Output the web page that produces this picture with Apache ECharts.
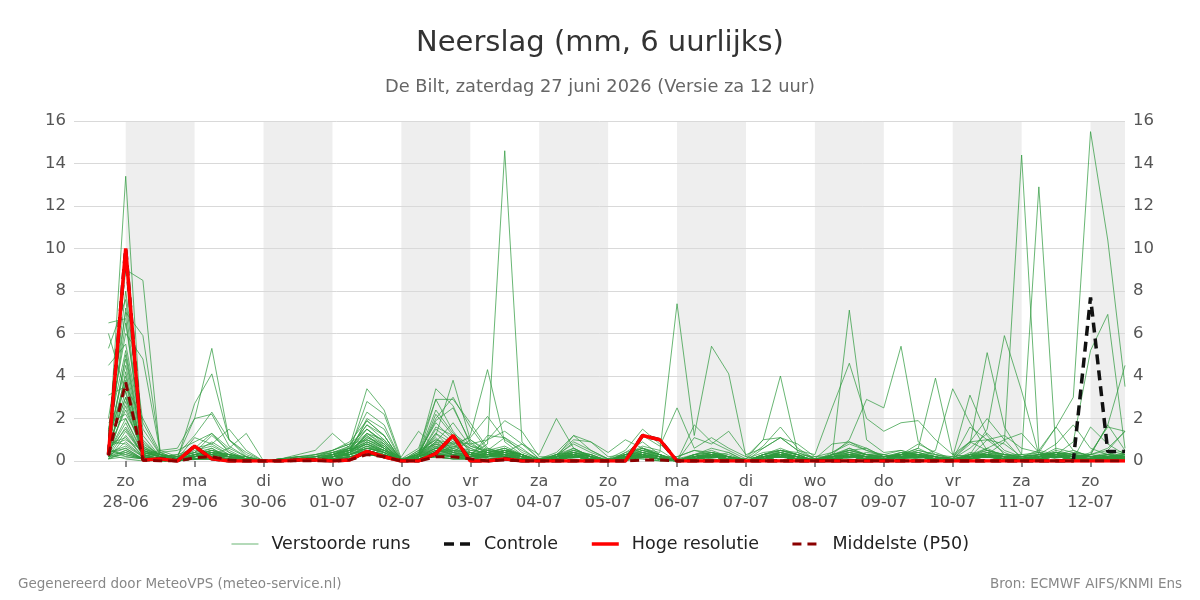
<!DOCTYPE html>
<html>
<head>
<meta charset="utf-8">
<script src="https://cdn.jsdelivr.net/npm/echarts@6/dist/echarts.min.js"></script>
<style>
  html, body { margin: 0; padding: 0; background: #fff; }
  #chart { width: 1200px; height: 600px; }
</style>
</head>
<body>
<div id="chart"></div>
<script>
// tijdstappen: elke 6 uur, uren t.o.v. zo 28-06 00:00
const startHour = -6
const stepHours = 6

const dayNames = ['zo', 'ma', 'di', 'wo', 'do', 'vr', 'za', 'zo', 'ma', 'di', 'wo', 'do', 'vr', 'za', 'zo']
const dayDates = ['28-06', '29-06', '30-06', '01-07', '02-07', '03-07', '04-07', '05-07',
  '06-07', '07-07', '08-07', '09-07', '10-07', '11-07', '12-07']
const tickHours = [0, 24, 48, 72, 96, 120, 144, 168, 192, 216, 240, 264, 288, 312, 336]
const greyDays = [0, 48, 96, 144, 192, 240, 288, 336]

// mm per 6 uur
const hogeResolutie = [0.3, 10.0,0.05,0.1,0, 0.7,0.1,0,0, 0,0,0.05,0.05, 0,0.05,0.45,0.2, 0,0,0.35,1.2, 0,0,0.1,0, 0,0,0,0, 0,0,1.2,1.0, 0,0,0,0, 0,0,0,0, 0,0,0,0, 0,0,0,0, 0,0,0,0, 0,0,0,0, 0,0,0]
const controle = [0.3, 10.0,0.05,0.1,0, 0.7,0.1,0,0, 0,0,0.05,0.05, 0,0.05,0.45,0.2, 0,0,0.35,1.2, 0,0,0.1,0, 0,0,0,0, 0,0,1.2,1.0, 0,0,0,0, 0,0,0,0, 0,0,0,0, 0,0,0,0, 0,0,0,0, 0,0,0,0, 7.7,0.45,0.45]
const middelste = [0.25, 3.7,0.05,0,0, 0.15,0.2,0.05,0, 0,0,0,0, 0,0.05,0.3,0.2, 0,0,0.2,0.2, 0.1,0,0.05,0, 0,0,0,0, 0,0,0.05,0.05, 0,0,0,0, 0,0,0,0, 0,0,0,0, 0,0,0,0, 0,0,0,0, 0,0,0,0, 0,0,0]

const verstoordeRuns = [
  [0.5, 13.4,0.4,0.2,0, 0.3,0.6,0.1,0, 0,0,0.1,0.2, 0.3,0.4,1.2,0.6, 0,0.2,0.8,0.6, 0.3,0.1,0.2,0, 0,0,0.3,0.1, 0,0.2,0.3,0.1, 0,0.2,0.1,0, 0,0.3,0.2,0, 0,0.1,0.3,0.2, 0.1,0.2,0.1,0, 0,0.1,0.4,0.2, 0,0.1,0.3,0.2, 0.1,0.3,0.2],
  [1.2, 9.0,8.5,0.3,0.1, 0.2,0.4,0,0, 0,0.1,0,0, 0.2,0.5,1.9,1.2, 0,0.3,1.1,0.4, 0.2,0.4,0.6,0.2, 0,0.2,0.1,0, 0,0,0.4,0.2, 0,0.3,0.5,0.2, 0,0.1,0.4,0.2, 0,0,0.2,0.4, 0.3,0.1,0.2,0.1, 0,0.4,0.3,0.1, 0.2,0,0.3,0.5, 0.2,0.1,0],
  [2.0, 7.0,5.9,0.5,0.2, 0.4,1.2,0.5,0.1, 0,0,0.2,0.3, 0.5,0.8,1.5,0.9, 0.1,0.2,0.6,0.4, 1.0,0.4,0.2,0.1, 0,0.1,0.3,0.1, 0,0.3,0.6,0.2, 0,0.2,0.3,0.1, 0.1,0.4,0.5,0.3, 0,0.2,0.5,0.6, 0.2,0.4,0.3,0.1, 0.1,0.9,0.5,0.3, 0.2,0.3,0.1,0, 0.3,0.2,0.1],
  [1.5, 6.0,4.8,0.4,0.1, 0.1,0.3,0.2,0, 0,0,0,0.1, 0.2,0.3,0.9,0.5, 0,0.4,1.8,1.0, 0.6,0.3,0.2,0.1, 0,0.2,0.6,0.2, 0,0,0.2,0.1, 0,0.1,0.2,0.4, 0,0.2,0.3,0.1, 0,0.3,0.4,0.2, 0.1,0.3,0.4,0.2, 0,0.2,1.0,0.8, 0.2,0.1,0.4,0.3, 0,0.2,0.3],
  [6.5, 6.7,0.5,0.2,0.1, 0.3,0.2,0.1,0, 0,0.1,0.2,0.1, 0.3,0.6,1.0,0.7, 0,0.2,0.5,0.3, 0.2,1.2,1.1,0.6, 0,0.3,0.8,0.4, 0.1,0.2,0.1,0, 0,0.3,0.6,0.4, 0,0.2,0.3,0.2, 0.1,0.2,0.6,0.3, 0.2,0.4,0.3,0.2, 0,0.3,0.2,0.1, 0.1,0.2,0.6,0.4, 0.2,0.4,0.1],
  [6.0, 3.2,0.3,0.1,0.2, 0.4,0.9,0.4,0.1, 0,0,0.1,0.1, 0.1,0.4,1.3,1.0, 0.1,0.3,1.3,0.5, 0.2,0.2,0.4,0.1, 0,0,0.2,0.3, 0,0.1,0.3,0, 0.2,0.5,0.3,0.1, 0,0.6,1.1,0.5, 0.1,0.2,0.1,0, 0.2,0.3,0.8,0.4, 0.1,0.2,0.5,0.3, 0.3,0.4,0.2,0.1, 0.1,0.2,0.4],
  [5.3, 7.6,1.5,0.3,0.1, 0.2,0.5,0.2,0, 0,0.1,0.1,0, 0.4,0.5,0.8,0.4, 0,0.1,0.4,0.7, 0.3,0.5,1.1,0.4, 0.1,0.2,0.4,0.2, 0,0.4,0.9,0.3, 0,0.2,0.4,0.2, 0,0.1,0.2,0.1, 0,0.4,0.9,0.5, 0.3,0.5,0.2,0.1, 0,0.1,0.3,0.2, 0.1,0.1,0.2,0.4, 0.3,0.6,1.4],
  [4.5, 5.5,1.2,0.2,0.3, 0.6,0.3,0.1,0, 0,0,0,0.2, 0.3,0.7,2.3,1.7, 0,0.5,0.8,0.3, 0.1,0.3,0.5,0.2, 0,0.1,0.2,0.1, 0,0.2,0.5,0.3, 0.1,0.3,0.2,0.1, 0,0.3,0.6,0.3, 0,0.1,0.2,0.3, 0.2,0.2,0.5,0.3, 0.2,0.3,0.2,0, 0.1,0.3,0.4,0.2, 0.1,0.2,0.2],
  [3.1, 3.5,2.0,0.4,0.1, 0.5,0.7,0.3,0.1, 0,0,0.1,0.1, 0.2,0.3,0.7,0.3, 0,0.3,2.0,3.0, 1.6,0.5,0.3,0.1, 0,0.2,0.5,0.3, 0,0.1,0.2,0.1, 0,0.1,0.3,0.2, 0,0.2,0.4,0.2, 0,0.2,0.3,0.1, 0.1,0.3,0.6,0.2, 0,0.2,0.4,0.3, 0.1,0.2,0.5,0.3, 0.2,0.1,0.3],
  [1.0, 4.5,0.6,0.3,0.1, 2.7,4.1,1.0,0.3, 0,0,0.1,0.1, 0.2,0.4,1.1,0.8, 0,0.2,0.6,0.5, 0.4,0.3,0.2,0.1, 0,0.1,0.3,0.2, 0,0.3,0.4,0.2, 0,0.2,0.4,0.3, 0,0.1,0.5,0.4, 0.1,0.1,0.2,0.2, 0.1,0.2,0.3,0.1, 0,0.3,0.6,0.2, 0.2,0.3,0.3,0.1, 0.1,0.2,0.1],
  [0.8, 4.0,0.3,0.5,0.6, 2.0,5.3,1.0,0.2, 0,0,0.1,0, 0.3,0.5,0.9,0.5, 0,0.2,1.3,0.8, 0.2,0.6,0.4,0.3, 0,0.2,0.2,0.1, 0,0,0.2,0.1, 0,0.1,0.2,0.1, 0,0.3,0.5,0.3, 0,0.2,0.3,0.2, 0.2,0.3,0.2,0.1, 0.1,0.2,0.3,0.1, 0,0.2,0.4,0.3, 0.2,0.3,0.2],
  [0.6, 3.0,0.4,0.2,0.3, 1.2,2.3,1.0,0.4, 0,0.1,0.2,0.3, 0.4,0.6,1.7,1.2, 0,0.4,1.0,0.6, 0.3,0.2,0.5,0.3, 0,0.3,0.6,0.2, 0,0.2,0.3,0.1, 0,0.3,0.2,0.1, 0,0.2,0.3,0.2, 0,0.3,0.5,0.3, 0.3,0.2,0.1,0.1, 0,0.1,0.2,0.1, 0.1,0.3,0.2,0.1, 0.2,0.3,0.5],
  [0.3, 2.6,0.3,0.1,0.2, 2.0,2.2,0.7,0.2, 0,0,0,0.1, 0.2,0.5,1.5,0.9, 0,0.2,1.6,1.2, 0.6,0.3,0.4,0.2, 0,0.1,0.2,0.1, 0,0.3,0.5,0.2, 0,0.2,0.2,0.1, 0,0.2,0.4,0.2, 0,0.1,0.2,0.2, 0.1,0.4,0.3,0.2, 0.1,0.3,0.5,0.3, 0.2,0.1,0.2,0.3, 0.1,0.2,0.3],
  [1.8, 2.2,0.8,0.3,0.2, 0.6,1.3,0.4,0.1, 0,0,0.1,0.1, 0.2,0.6,1.3,0.7, 0,0.5,1.0,0.8, 0.4,0.2,0.3,0.1, 0,0.2,0.4,0.2, 0,0.1,0.3,0.2, 0,0.2,0.3,0.2, 0,0.1,0.2,0.1, 0,0.2,0.4,0.3, 0.2,0.3,0.4,0.2, 0,0.2,0.4,0.2, 0.1,0.2,0.3,0.1, 0,0.1,0.2],
  [0.4, 1.8,0.2,0.4,0.5, 0.9,1.3,0.6,0.2, 0,0,0.1,0.2, 0.5,0.8,1.0,0.6, 0,0.3,0.9,0.4, 0.3,0.5,0.7,0.3, 0.1,0.2,0.3,0.1, 0,0.4,0.6,0.3, 0,0.1,0.1,0, 0,0.3,0.5,0.3, 0,0.1,0.2,0.1, 0.1,0.2,0.2,0.1, 0,0.1,0.2,0.2, 0.1,0.2,0.3,0.2, 0.2,0.1,0.1],
  [0.2, 1.4,0.3,0.2,0.1, 1.1,0.8,1.5,0.5, 0,0.1,0.2,0.2, 0.3,0.5,0.8,0.5, 0,0.1,0.5,0.3, 0.2,0.3,0.3,0.2, 0,0.1,0.2,0.1, 0,0.2,0.2,0.1, 0,0.1,0.2,0.1, 0,0.1,0.2,0.1, 0.1,0.2,0.2,0.1, 0,0.2,0.3,0.1, 0,0.1,0.2,0.1, 0,0.2,0.2,0.1, 0.1,0.2,0.2],
  [0.7, 1.0,0.5,0.2,0.1, 0.2,0.3,0.6,1.3, 0,0,0.1,0.1, 0.1,0.3,0.6,0.4, 0,0.2,0.4,0.2, 0.1,0.2,0.4,0.3, 0,0.2,0.3,0.1, 0,0.1,0.1,0, 0,0.1,0.3,0.2, 0,0.2,0.2,0.1, 0,0.1,0.2,0.1, 0.1,0.1,0.2,0.1, 0,0.2,0.2,0.1, 0.1,0.1,0.2,0.2, 0.1,0.1,0.1],
  [0.9, 0.8,0.2,0.1,0.1, 0.3,0.5,0.3,0.2, 0,0.1,0.3,0.5, 1.3,0.6,0.5,0.3, 0,0.2,0.7,0.4, 0.2,0.4,0.3,0.1, 0,0.1,0.4,0.2, 0,0.2,0.3,0.1, 0,0.1,0.2,0.1, 0,0.2,0.3,0.2, 0,0.2,0.3,0.2, 0.1,0.2,0.3,0.2, 0,0.1,0.2,0.1, 0.1,0.2,0.4,0.2, 0.1,0.2,0.1],
  [0.1, 0.5,0.1,0.1,0, 0.1,0.3,0.2,0.1, 0,0,0.1,0.2, 0.4,0.7,3.4,2.4, 0.1,0.3,0.6,0.3, 0.2,0.3,0.2,0.1, 0,0.1,0.2,0.1, 0,0.1,0.2,0.1, 0,0.2,0.3,0.1, 0,0.1,0.2,0.1, 0,0.2,0.4,0.2, 0.2,0.3,0.2,0.1, 0,0.3,0.3,0.2, 0.1,0.2,0.2,0.1, 0.1,0.2,0.3],
  [0.3, 3.8,0.2,0.1,0, 0.2,0.4,0.2,0.1, 0,0,0.1,0.1, 0.3,0.5,2.8,2.2, 0,0.2,0.4,0.2, 0.1,0.2,0.5,0.3, 0,0.2,0.3,0.1, 0,0.2,0.4,0.2, 0,0.1,0.2,0.1, 0,0.3,0.4,0.2, 0,0.1,0.3,0.2, 0.1,0.2,0.2,0.1, 0.1,0.2,0.3,0.1, 0,0.1,0.3,0.2, 0.2,0.3,0.2],
  [0.5, 5.0,0.7,0.3,0.1, 0.3,0.2,0.1,0, 0,0.1,0.2,0.1, 0.2,0.4,2.0,1.5, 0,0.3,0.8,0.5, 0.4,0.2,0.3,0.1, 0,0.1,0.2,0.1, 0,0.3,0.2,0.1, 0,0.2,0.3,0.2, 0,0.2,0.2,0.1, 0.1,0.2,0.3,0.2, 0.1,0.3,0.5,0.3, 0.1,0.2,0.2,0.1, 0.1,0.2,0.2,0.1, 0,0.1,0.2],
  [1.0, 6.5,1.0,0.2,0.1, 0.4,0.3,0.2,0, 0,0,0.1,0.3, 0.5,0.9,1.9,1.2, 0,0.1,0.3,0.2, 0.3,1.0,1.4,0.8, 0.1,0.3,0.4,0.2, 0,0.1,0.2,0.1, 0,0.3,0.4,0.2, 0,0.1,0.3,0.2, 0,0.3,0.6,0.3, 0.2,0.2,0.3,0.1, 0,0.2,0.3,0.2, 0.2,0.3,0.2,0.1, 0.1,0.2,0.4],
  [0.2, 4.2,0.4,0.2,0.1, 0.2,0.4,0.3,0.1, 0,0,0,0.1, 0.3,0.6,1.7,1.0, 0,0.2,1.5,0.9, 0.3,0.3,0.4,0.2, 0,0.2,1.2,0.9, 0.2,0.3,0.3,0.1, 0,0.1,0.2,0.1, 0,0.2,0.3,0.1, 0,0.1,0.2,0.1, 0.1,0.2,0.2,0.1, 0,0.2,0.2,0.1, 0.1,0.1,0.3,0.2, 0.1,0.1,0.2],
  [0.4, 7.2,0.6,0.2,0.1, 0.3,0.2,0.1,0.1, 0,0,0.1,0.2, 0.4,0.6,1.5,0.8, 0,0.2,0.5,0.3, 0.2,0.4,0.6,0.3, 0,0.2,0.9,0.5, 0.1,0.2,0.3,0.2, 0,0.1,0.3,0.2, 0,0.2,0.4,0.2, 0,0.1,0.2,0.1, 0.1,0.2,0.2,0.1, 0,0.1,0.2,0.1, 0.1,0.2,0.3,0.1, 0.1,0.1,0.1],
  [0.8, 8.0,1.8,0.3,0.2, 0.4,0.6,0.2,0.1, 0,0,0.1,0.1, 0.2,0.3,1.3,0.8, 0,0.1,0.4,0.5, 0.3,0.2,0.3,0.1, 0,0.2,0.5,0.3, 0,0.2,0.5,0.3, 0,0.2,0.3,0.1, 0,0.1,0.2,0.1, 0,0.2,0.3,0.2, 0.2,0.3,0.3,0.1, 0,0.2,0.3,0.2, 0.1,0.2,0.4,0.2, 0.2,0.2,0.3],
  [1.4, 5.2,0.9,0.2,0.1, 0.2,0.4,0.3,0.2, 0,0,0,0.1, 0.2,0.4,1.0,0.6, 0,0.3,0.7,0.4, 0.2,0.3,0.5,0.3, 0,0.1,0.2,0.1, 0,0.3,0.7,0.5, 0,0.2,0.2,0.1, 0,0.2,0.3,0.2, 0,0.2,0.4,0.2, 0.1,0.2,0.2,0.1, 0,0.2,0.3,0.2, 0.1,0.2,0.2,0.1, 0.1,0.2,0.2],
  [0.6, 2.4,0.5,0.3,0.2, 0.6,0.8,0.3,0.1, 0,0,0.1,0.1, 0.3,0.5,0.9,0.6, 0,0.3,0.9,0.7, 0.5,0.4,0.5,0.2, 0,0.3,0.4,0.2, 0,0.2,0.3,0.2, 0,0.3,0.4,0.2, 0,0.1,0.2,0.1, 0,0.2,0.2,0.1, 0.1,0.2,0.3,0.2, 0.1,0.2,0.2,0.1, 0,0.1,0.2,0.1, 0,0.1,0.2],
  [1.6, 2.0,0.4,0.2,0.1, 0.3,0.5,0.2,0.1, 0,0,0.1,0.1, 0.2,0.3,0.6,0.5, 0.2,1.4,0.6,0.3, 0.2,0.3,0.2,0.1, 0,0.1,0.2,0.1, 0,0.1,0.2,0.1, 0,0.2,0.3,0.2, 0,0.3,0.5,0.3, 0,0.1,0.2,0.1, 0.1,0.1,0.2,0.1, 0,0.1,0.3,0.2, 0.1,0.2,0.2,0.1, 0.3,1.7,0.5],
  [0.3, 1.6,0.3,0.1,0.1, 0.2,0.3,0.2,0.1, 0,0,0.1,0.1, 0.2,0.3,0.5,0.3, 0,0.4,3.4,2.6, 0.8,0.4,0.3,0.1, 0,0.1,0.3,0.2, 0,0.2,0.3,0.1, 0,0.1,0.2,0.1, 0,0.2,0.3,0.1, 0,0.2,0.3,0.2, 0.1,0.3,0.4,0.2, 0.1,0.2,0.3,0.1, 0.2,0.4,1.6,0.5, 0.2,0.2,0.1],
  [0.5, 3.3,0.5,0.2,0.1, 0.3,0.4,0.2,0.1, 0,0,0.1,0.1, 0.2,0.4,0.8,0.4, 0,0.3,2.9,2.9, 1.8,0.6,0.3,0.2, 0,0.2,0.2,0.1, 0,0.2,0.4,0.2, 0,0.2,0.3,0.1, 0,0.1,0.3,0.2, 0,0.1,0.2,0.1, 0.1,0.2,0.3,0.2, 0,0.2,0.3,0.1, 0.1,0.3,0.8,1.7, 0.6,0.3,0.2],
  [0.2, 2.8,0.4,0.2,0.1, 0.2,0.3,0.2,0.1, 0,0,0.1,0.1, 0.3,0.5,1.1,0.7, 0.1,0.6,2.9,1.4, 0.4,0.3,0.5,0.3, 0,0.3,0.5,0.2, 0,0.1,0.2,0.1, 0,0.2,0.2,0.1, 0,0.2,0.3,0.2, 0,0.2,0.2,0.1, 0.1,0.2,0.3,0.1, 0.1,0.2,0.6,1.0, 1.3,0.4,0.2,0.1, 0.1,0.1,0.2],
  [1.1, 3.6,0.6,0.3,0.1, 0.3,0.5,0.3,0.1, 0,0,0.1,0.1, 0.2,0.3,0.7,0.4, 0,0.3,2.4,1.3, 0.7,0.5,0.4,0.2, 0,0.2,0.3,0.2, 0,0.2,0.2,0.1, 0,0.1,0.2,0.1, 0,0.1,0.2,0.1, 0,0.2,0.3,0.1, 0.1,0.2,0.2,0.1, 0.1,1.6,1.0,0.4, 0.1,0.1,0.2,0.1, 0,0.1,0.1],
  [0.9, 4.8,0.7,0.2,0.1, 0.3,0.4,0.2,0, 0,0,0.1,0.1, 0.3,0.5,1.2,0.6, 0,0.2,2.2,1.2, 0.5,0.4,0.6,0.3, 0,0.2,0.3,0.1, 0,0.1,0.3,0.2, 0,0.2,0.3,0.2, 0,0.2,0.2,0.1, 0,0.3,0.5,0.3, 0.2,0.3,0.3,0.1, 0.2,0.9,2.0,1.0, 0.1,0.2,0.3,0.2, 0.1,0.2,0.3],
  [0.4, 2.0,0.3,0.1,0.1, 0.2,0.3,0.2,0.1, 0,0,0.1,0.1, 0.2,0.4,0.8,0.5, 0,0.2,1.2,3.8, 1.0,0.5,0.4,0.2, 0,0.2,0.3,0.1, 0,0.2,0.3,0.1, 0,0.1,0.2,0.1, 0,0.2,0.3,0.1, 0,0.1,0.2,0.2, 0.1,0.2,0.2,0.1, 0,0.2,0.3,0.2, 0.1,0.2,0.2,0.2, 0.3,1.7,4.5],
  [0.7, 3.0,0.5,0.2,0.1, 0.2,0.4,0.3,0.1, 0,0,0.1,0.1, 0.2,0.3,0.6,0.4, 0,0.3,1.9,2.5, 0.9,0.3,0.5,0.3, 0,0.1,0.2,0.1, 0,0.3,0.4,0.2, 0,0.1,0.2,0.1, 0,0.2,0.3,0.2, 0,0.2,0.2,0.1, 0.2,0.3,0.2,0.1, 0,0.1,0.2,0.2, 0.1,0.2,0.3,0.9, 5.2,6.9,0.6],
  [0.1, 1.2,0.2,0.1,0.1, 0.1,0.2,0.1,0, 0,0,0.1,0.1, 0.2,0.3,0.5,0.3, 0,0.2,0.9,1.8, 0.7,0.4,0.3,0.2, 0,0.1,0.2,0.1, 0,0.1,0.2,0.1, 0,0.2,0.3,0.2, 0,0.1,0.2,0.1, 0,0.2,0.2,0.1, 0.1,0.2,0.3,0.1, 0,0.1,0.2,0.1, 0.2,0.5,1.6,3.0, 15.5,10.4,3.5],
  [0.2, 0.9,0.2,0.1,0, 0.1,0.2,0.1,0, 0,0,0.1,0.1, 0.1,0.3,0.6,0.4, 0,0.1,0.4,0.6, 1.2,4.3,0.9,0.3, 0,0.2,0.3,0.1, 0,0.1,0.2,0.1, 0,0.2,0.2,0.1, 0,0.1,0.2,0.1, 0,0.1,0.2,0.1, 0.1,0.2,0.2,0.1, 0,0.2,0.3,0.2, 0.3,12.9,0.4,0.3, 0.2,0.3,0.2],
  [0.5, 1.5,0.3,0.1,0.1, 0.2,0.3,0.2,0.1, 0,0,0.1,0.1, 0.2,0.4,0.7,0.5, 0,0.2,0.6,0.8, 1.1,2.1,1.0,0.5, 0.1,0.2,0.3,0.2, 0,0.2,0.3,0.1, 0,0.1,0.2,0.1, 0,0.2,0.3,0.1, 0,0.1,0.2,0.1, 0.1,0.2,0.2,0.1, 0.1,0.2,0.3,0.9, 14.4,0.5,0.3,0.2, 0.1,0.2,0.3],
  [0.3, 0.6,0.1,0.1,0, 0.1,0.2,0.1,0, 0,0,0.1,0.1, 0.2,0.3,0.5,0.3, 0,0.2,0.5,0.4, 0.3,0.8,14.6,0.9, 0.1,0.2,0.2,0.1, 0,0.1,0.2,0.1, 0,0.1,0.2,0.1, 0,0.1,0.2,0.1, 0,0.2,0.3,0.2, 0.1,0.2,0.2,0.1, 0.1,0.3,1.5,5.9, 3.3,0.3,0.2,0.1, 0.1,0.2,0.1],
  [0.8, 1.1,0.2,0.1,0.1, 0.2,0.3,0.2,0.1, 0,0,0.1,0.1, 0.2,0.3,0.6,0.4, 0,0.2,0.6,0.9, 0.8,1.0,1.9,1.4, 0.2,0.2,0.4,0.3, 0,0.2,0.2,0.1, 0,0.2,0.3,0.1, 0,0.1,0.3,0.2, 0,0.1,0.2,0.1, 0.1,0.2,0.3,0.1, 0.1,0.8,5.1,1.6, 0.3,0.2,0.3,0.2, 0.2,0.1,0.2],
  [0.1, 0.4,0.1,0.1,0, 0.1,0.2,0.1,0, 0,0,0.1,0.1, 0.1,0.2,0.4,0.3, 0,0.1,0.3,0.3, 0.2,0.3,0.4,0.8, 0.3,2.0,0.6,0.2, 0,0.2,0.3,0.1, 0,0.1,0.2,0.1, 0,0.1,0.2,0.1, 0,0.1,0.2,0.1, 0.1,0.2,0.2,0.1, 0.2,3.1,1.2,0.3, 0.2,0.1,0.2,0.3, 0.2,0.1,0.1],
  [0.4, 0.7,0.2,0.1,0, 0.1,0.2,0.1,0, 0,0,0.1,0.1, 0.1,0.2,0.5,0.3, 0,0.2,0.4,0.3, 0.2,0.3,0.3,0.2, 0.1,0.4,1.2,0.5, 0.1,0.3,0.6,0.3, 0,0.1,0.2,0.1, 0,0.2,0.3,0.2, 0,0.1,0.2,0.1, 0.1,0.1,0.2,0.5, 3.4,1.8,0.5,0.2, 0.1,0.1,0.2,0.1, 0.1,0.2,0.2],
  [0.2, 0.3,0.1,0,0, 0.1,0.1,0.1,0, 0,0,0.1,0.1, 0.1,0.2,0.4,0.3, 0,0.1,0.3,0.2, 0.2,0.2,0.3,0.2, 0,0.3,1.0,0.9, 0.4,1.0,0.6,0.3, 0,0.2,0.3,0.2, 0,0.1,0.2,0.1, 0,0.3,1.0,2.9, 2.5,5.4,0.9,0.3, 0.1,0.2,0.2,0.1, 0,0.1,0.2,0.1, 0,0.1,0.1],
  [0.6, 0.2,0.1,0,0, 0.1,0.1,0,0, 0,0,0.1,0.1, 0.1,0.2,0.3,0.2, 0,0.1,0.3,0.2, 0.1,0.2,0.3,0.2, 0,0.1,0.3,0.2, 0.1,0.5,1.5,0.8, 0.1,0.2,0.2,0.1, 0,0.1,0.2,0.1, 0,0.1,0.2,0.1, 0.1,0.3,0.6,3.9, 0.3,0.2,0.2,0.1, 0,0.1,0.2,0.1, 0.1,0.1,0.2],
  [0.3, 0.1,0,0,0, 0.1,0.1,0,0, 0,0,0,0.1, 0.1,0.2,0.3,0.2, 0,0.1,0.2,0.1, 0.1,0.2,0.2,0.1, 0,0.1,0.2,0.1, 0,0.2,0.6,0.4, 7.4,1.2,5.4,4.1, 0.2,0.1,0.2,0.1, 0,0.1,0.2,0.1, 0.1,0.2,0.2,0.1, 0,0.1,0.2,0.1, 0.1,0.1,0.2,0.1, 0.1,0.1,0.2],
  [0.1, 0.2,0.1,0,0, 0.1,0.1,0,0, 0,0,0,0.1, 0.1,0.1,0.3,0.2, 0,0.1,0.2,0.1, 0.1,0.1,0.2,0.1, 0,0.1,0.2,0.1, 0,0.2,1.2,0.7, 2.5,0.6,1.1,0.6, 0.2,1.0,1.1,0.8, 0.2,0.4,0.8,0.5, 0.2,0.3,0.2,0.1, 0,0.2,0.2,0.1, 0,0.1,0.2,0.1, 0.4,1.6,1.4],
  [0.5, 0.3,0.1,0,0, 0.1,0.1,0,0, 0,0,0,0.1, 0.1,0.2,0.3,0.2, 0,0.1,0.2,0.1, 0.1,0.2,0.2,0.1, 0,0.1,0.2,0.1, 0,0.1,0.4,0.3, 0,1.7,0.9,0.5, 0.1,0.7,1.6,0.6, 0.1,0.8,0.9,0.6, 0.2,0.3,0.3,0.1, 0,0.2,0.3,0.1, 0.1,0.2,0.2,0.1, 1.6,0.8,0.3],
  [0.2, 0.5,0.1,0,0, 0.1,0.1,0,0, 0,0,0,0.1, 0.1,0.2,0.4,0.2, 0,0.1,0.3,0.2, 0.1,0.2,0.3,0.1, 0,0.1,0.2,0.1, 0,0.1,0.3,0.2, 0.2,0.5,0.4,0.2, 0.1,1.0,4.0,0.4, 0.1,0.3,0.5,0.3, 0.1,0.2,0.2,0.1, 0,0.1,0.2,0.1, 0.1,0.1,0.2,0.1, 0.1,0.1,0.1],
  [0.4, 0.6,0.1,0,0, 0.1,0.1,0,0, 0,0,0,0.1, 0.1,0.2,0.3,0.2, 0,0.1,0.3,0.2, 0.1,0.2,0.3,0.1, 0,0.1,0.2,0.1, 0,0.2,0.5,0.3, 0,1.1,0.8,1.4, 0.3,0.6,1.1,0.5, 0.3,2.5,4.6,2.0, 1.4,1.8,1.9,1.0, 0.3,0.9,1.0,1.2, 0.6,0.4,0.3,0.2, 0.1,0.2,0.1],
  [0.3, 0.4,0.1,0,0, 0.1,0.1,0,0, 0,0,0,0.1, 0.1,0.2,0.3,0.2, 0,0.1,0.2,0.1, 0.1,0.2,0.2,0.1, 0,0.1,0.2,0.1, 0,0.1,0.2,0.1, 0,0.2,0.3,0.2, 0,0.2,0.4,0.3, 0.2,0.2,7.1,1.0, 0.4,0.5,0.3,0.2, 0.1,0.6,1.3,0.5, 0.2,0.3,0.4,0.2, 0.3,0.5,1.4]
]

const font = 'DejaVu Sans'
const xMin = -18
const xMax = 348

function toPoints (values) {
  return values.map((v, i) => [startHour + i * stepHours, v])
}

const chart = echarts.init(document.getElementById('chart'), null, { renderer: 'canvas' })

const series = []

// grijze banden voor de even dagen
series.push({
  type: 'custom',
  z: 0,
  silent: true,
  data: greyDays.map(d => [d, Math.min(d + 24, xMax)]),
  renderItem: function (params, api) {
    const p1 = api.coord([api.value(0), 16])
    const p2 = api.coord([api.value(1), 0])
    const rect = echarts.graphic.clipRectByRect(
      { x: p1[0], y: p1[1], width: p2[0] - p1[0], height: p2[1] - p1[1] },
      params.coordSys
    )
    return rect && { type: 'rect', shape: rect, style: { fill: '#eeeeee' } }
  },
  encode: { x: [0, 1] }
})

verstoordeRuns.forEach(run => {
  series.push({
    name: 'Verstoorde runs',
    type: 'line',
    data: toPoints(run),
    symbol: 'none',
    silent: true,
    z: 2,
    color: '#2f9a3f',
    lineStyle: { width: 1, color: '#2f9a3f', opacity: 0.72 },
    emphasis: { disabled: true }
  })
})

series.push({
  name: 'Controle',
  type: 'line',
  data: toPoints(controle),
  symbol: 'none',
  silent: true,
  z: 3,
  color: '#111111',
  lineStyle: { width: 3.5, color: '#111111', type: [10, 6] },
  emphasis: { disabled: true }
})

series.push({
  name: 'Hoge resolutie',
  type: 'line',
  data: toPoints(hogeResolutie),
  symbol: 'none',
  silent: true,
  z: 4,
  color: '#ff0000',
  lineStyle: { width: 3.5, color: '#ff0000' },
  emphasis: { disabled: true }
})

series.push({
  name: 'Middelste (P50)',
  type: 'line',
  data: toPoints(middelste),
  symbol: 'none',
  silent: true,
  z: 5,
  color: '#8b0000',
  lineStyle: { width: 3, color: '#8b0000', type: [9, 6] },
  emphasis: { disabled: true }
})

const yAxisBase = {
  type: 'value',
  min: 0,
  max: 16,
  interval: 2,
  z: 1,
  axisLine: { show: false },
  axisTick: { show: false },
  axisLabel: { fontFamily: font, fontSize: 16.5, color: '#555', margin: 8 }
}

chart.setOption({
  animation: false,
  backgroundColor: '#ffffff',
  textStyle: { fontFamily: font },
  title: [
    { text: 'Neerslag (mm, 6 uurlijks)', left: 'center', top: 24,
      textStyle: { fontFamily: font, fontSize: 29, fontWeight: 'normal', color: '#333' } },
    { text: 'De Bilt, zaterdag 27 juni 2026 (Versie za 12 uur)', left: 'center', top: 73,
      textStyle: { fontFamily: font, fontSize: 17.8, fontWeight: 'normal', color: '#666' } },
    { text: 'Gegenereerd door MeteoVPS (meteo-service.nl)', left: 13, top: 572,
      textStyle: { fontFamily: font, fontSize: 13.5, fontWeight: 'normal', color: '#888' } },
    { text: 'Bron: ECMWF AIFS/KNMI Ens', right: 13, top: 572,
      textStyle: { fontFamily: font, fontSize: 13.5, fontWeight: 'normal', color: '#888' } }
  ],
  legend: {
    data: ['Verstoorde runs', 'Controle', 'Hoge resolutie', 'Middelste (P50)'],
    left: 'center',
    top: 530,
    itemWidth: 27,
    itemHeight: 20,
    itemGap: 32,
    selectedMode: false,
    itemStyle: { opacity: 0 },
    lineStyle: { width: 'inherit', type: 'inherit' },
    textStyle: { fontFamily: font, fontSize: 17.5, color: '#222', padding: [0, 0, 0, 8] }
  },
  grid: { left: 74, right: 75, top: 121, bottom: 139, containLabel: false },
  xAxis: {
    type: 'value',
    min: xMin,
    max: xMax,
    z: 1,
    splitLine: { show: false },
    axisLine: { show: false },
    axisTick: { show: true, customValues: tickHours, length: 6, lineStyle: { color: '#666', width: 1.5 } },
    axisLabel: {
      customValues: tickHours,
      fontFamily: font,
      fontSize: 16,
      color: '#555',
      lineHeight: 21,
      margin: 10,
      formatter: function (v) {
        const i = tickHours.indexOf(v)
        return i < 0 ? '' : dayNames[i] + '\n' + dayDates[i]
      }
    }
  },
  yAxis: [
    Object.assign({}, yAxisBase, {
      position: 'left',
      splitLine: { show: true, lineStyle: { color: '#d9d9d9', width: 1 } }
    }),
    Object.assign({}, yAxisBase, {
      position: 'right',
      splitLine: { show: false }
    })
  ],
  series: series
})
</script>
</body>
</html>
